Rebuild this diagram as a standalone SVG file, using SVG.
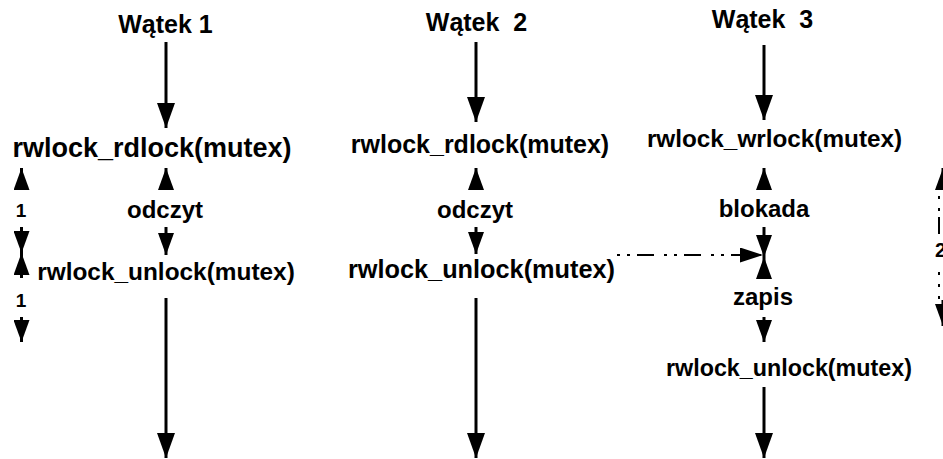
<svg xmlns="http://www.w3.org/2000/svg" width="943" height="459" viewBox="0 0 943 459">
<style>
text{font-family:"Liberation Sans",Arial,sans-serif;font-weight:bold;fill:#000;text-anchor:middle}
.ln{stroke:#000;stroke-width:3;fill:none}
.big{marker-end:url(#big)}
.sm{marker-end:url(#sm)}
.dd{stroke:#000;stroke-width:2;fill:none;stroke-dasharray:3 7 3 7 17 10}
</style>
<defs>
<marker id="big" markerUnits="userSpaceOnUse" viewBox="0 0 25 18" markerWidth="25" markerHeight="18" refX="25" refY="9" orient="auto"><path d="M0,0L25,9L0,18z" fill="#000"/></marker>
<marker id="sm" markerUnits="userSpaceOnUse" viewBox="0 0 22 16" markerWidth="22" markerHeight="16" refX="22" refY="8" orient="auto"><path d="M0,0L22,8L0,16z" fill="#000"/></marker>
<marker id="hd" markerUnits="userSpaceOnUse" viewBox="0 0 23 15" markerWidth="23" markerHeight="15" refX="23" refY="7.5" orient="auto"><path d="M0,0L23,7.5L0,15z" fill="#000"/></marker>
</defs>
<rect width="943" height="459" fill="#fff"/>
<g id="connectors">
<line class="ln big" x1="166" y1="42" x2="166" y2="128"/>
<line class="ln sm" x1="166" y1="190" x2="166" y2="168"/>
<line class="ln sm" x1="166" y1="227" x2="166" y2="255"/>
<line class="ln big" x1="166" y1="298" x2="166" y2="458"/>
<line class="ln big" x1="476" y1="42" x2="476" y2="122"/>
<line class="ln sm" x1="476" y1="190" x2="476" y2="168"/>
<line class="ln sm" x1="476" y1="227" x2="476" y2="254"/>
<line class="ln big" x1="476" y1="298" x2="476" y2="458"/>
<line class="ln big" x1="764" y1="45" x2="764" y2="120"/>
<line class="ln sm" x1="764" y1="190" x2="764" y2="168"/>
<line class="ln sm" x1="764" y1="227" x2="764" y2="257"/>
<line class="ln sm" x1="764" y1="279" x2="764" y2="257"/>
<line class="dd" x1="617" y1="255" x2="763" y2="255" marker-end="url(#hd)"/>
<line class="ln sm" x1="764" y1="317" x2="764" y2="342"/>
<line class="ln big" x1="764" y1="387" x2="764" y2="458"/>
<line class="ln sm" x1="21.5" y1="190" x2="21.5" y2="168"/>
<line class="ln sm" x1="21.5" y1="227" x2="21.5" y2="253"/>
<line class="ln sm" x1="21.5" y1="278" x2="21.5" y2="253"/>
<line class="ln sm" x1="21.5" y1="317" x2="21.5" y2="342"/>
<line class="ln sm" x1="943" y1="190" x2="943" y2="168"/>
<line x1="939" y1="196" x2="939" y2="234" stroke="#000" stroke-width="2" stroke-dasharray="3 9 3 6 18 100"/>
<line x1="939" y1="272" x2="939" y2="300" stroke="#000" stroke-width="2" stroke-dasharray="3 9"/>
<line class="ln sm" x1="943" y1="300" x2="943" y2="326"/>
</g>
<g id="thread1">
<text x="165.5" y="33" font-size="25">Wątek 1</text>
<text x="152" y="157" font-size="27">rwlock_rdlock(mutex)</text>
<text x="165" y="218" font-size="24">odczyt</text>
<text x="166" y="280" font-size="24.4">rwlock_unlock(mutex)</text>
</g>
<g id="thread2">
<text x="476.5" y="31" font-size="25" xml:space="preserve">Wątek  2</text>
<text x="480" y="153" font-size="25">rwlock_rdlock(mutex)</text>
<text x="475" y="218" font-size="24">odczyt</text>
<text x="481.5" y="278" font-size="25.3">rwlock_unlock(mutex)</text>
</g>
<g id="thread3">
<text x="762.5" y="28" font-size="25" xml:space="preserve">Wątek  3</text>
<text x="774.5" y="147" font-size="24.3">rwlock_wrlock(mutex)</text>
<text x="764" y="217" font-size="24">blokada</text>
<text x="763" y="305" font-size="24">zapis</text>
<text x="789" y="376" font-size="23.3">rwlock_unlock(mutex)</text>
</g>
<g id="left-marks">
<text x="21" y="217" font-size="19">1</text>
<text x="21" y="307" font-size="19">1</text>
</g>
<g id="right-marks">
<text x="935" y="257" font-size="20" style="text-anchor:start">2</text>
</g>
</svg>
